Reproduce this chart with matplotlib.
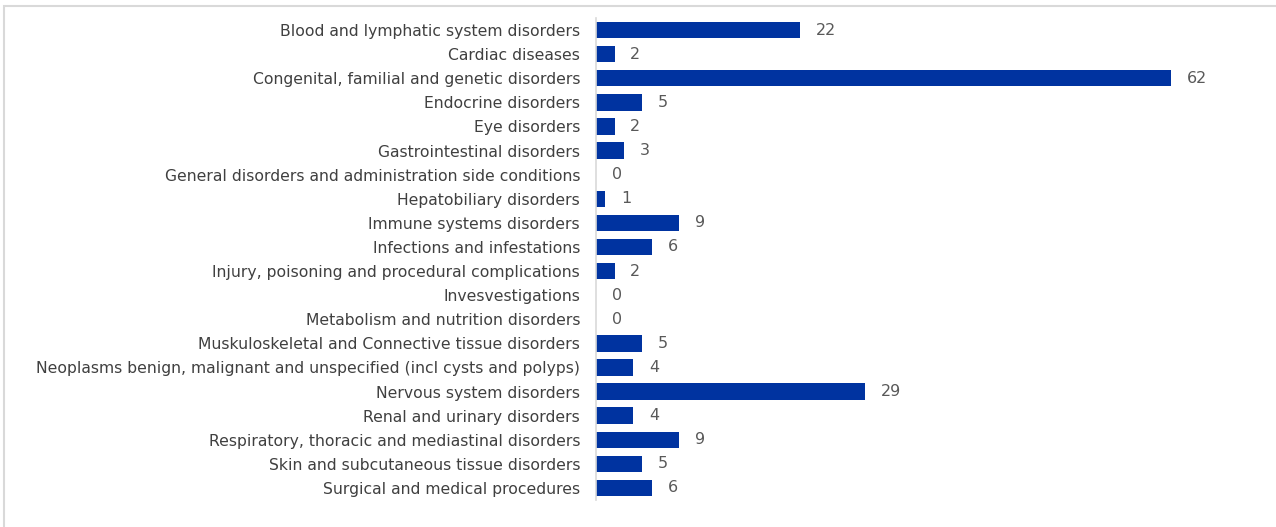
import matplotlib.pyplot as plt
from matplotlib.patches import Rectangle

categories = [
    'Blood and lymphatic system disorders',
    'Cardiac diseases',
    'Congenital, familial and genetic disorders',
    'Endocrine disorders',
    'Eye disorders',
    'Gastrointestinal disorders',
    'General disorders and administration side conditions',
    'Hepatobiliary disorders',
    'Immune systems disorders',
    'Infections and infestations',
    'Injury, poisoning and procedural complications',
    'Invesvestigations',
    'Metabolism and nutrition disorders',
    'Muskuloskeletal and Connective tissue disorders',
    'Neoplasms benign, malignant and unspecified (incl cysts and polyps)',
    'Nervous system disorders',
    'Renal and urinary disorders',
    'Respiratory, thoracic and mediastinal disorders',
    'Skin and subcutaneous tissue disorders',
    'Surgical and medical procedures',
]
counts = [22, 2, 62, 5, 2, 3, 0, 1, 9, 6, 2, 0, 0, 5, 4, 29, 4, 9, 5, 6]

fig = plt.figure(figsize=(12.76, 5.27), dpi=100)
ax = fig.add_axes([596 / 1276, 1 - 500 / 527, (1245 - 596) / 1276, 482 / 527])

ypos = list(range(len(categories)))
bars = ax.barh(ypos, counts, height=0.68, color='#0033a0')
ax.set_xlim(0, 70)
ax.set_ylim(len(categories) - 0.5, -0.5)
ax.set_yticks(ypos)
ax.set_yticklabels(categories, fontsize=11.25, color='#404040')
ax.tick_params(axis='y', length=0, pad=11.5)
ax.set_xticks([])
for s in ['top', 'right', 'bottom']:
    ax.spines[s].set_visible(False)
ax.spines['left'].set_color('#d9d9d9')
ax.spines['left'].set_linewidth(1.2)

for b, v in zip(bars, counts):
    ax.text(b.get_width() + 1.7, b.get_y() + b.get_height() / 2, str(v),
            va='center', ha='left', fontsize=11.5, color='#595959')

fig.patches.append(Rectangle((4 / 1276, -0.1), 1.2, 1 - 6 / 527 + 0.1,
                             transform=fig.transFigure, fill=False,
                             edgecolor='#d9d9d9', linewidth=1.5))

fig.savefig('out.png', dpi=100)
